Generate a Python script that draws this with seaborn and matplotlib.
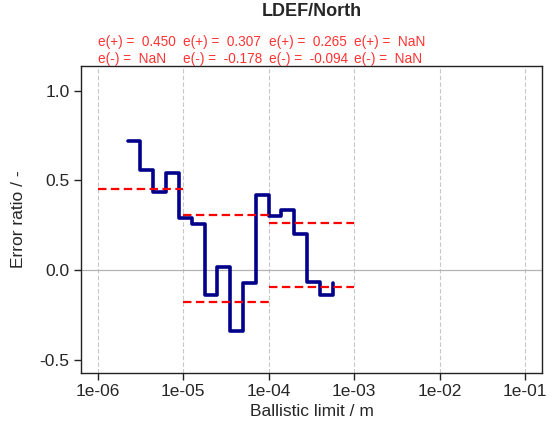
# Error ratio vs ballistic limit, LDEF/North
import numpy as np
import pandas as pd
import matplotlib
matplotlib.use("Agg")
import matplotlib.pyplot as plt
import matplotlib.transforms as mtransforms
from matplotlib.ticker import FixedLocator, FuncFormatter, NullLocator
import seaborn as sns

# step curve (ballistic limit in m, error ratio)
bl = [2.24e-6, 3.16e-6, 4.47e-6, 6.31e-6, 8.91e-6, 1.26e-5, 1.78e-5, 2.51e-5,
      3.55e-5, 5.01e-5, 7.08e-5, 1.00e-4, 1.41e-4, 2.00e-4, 2.82e-4, 3.98e-4, 5.62e-4]
ratio = [0.720, 0.557, 0.437, 0.544, 0.291, 0.256, -0.137, 0.020,
         -0.336, -0.069, 0.420, 0.302, 0.335, 0.200, -0.067, -0.136, -0.071]

# decade bins and mean errors
dec_lo = [1e-6, 1e-5, 1e-4, 1e-3]
dec_hi = [1e-5, 1e-4, 1e-3, 1e-2]
e_pos = [0.450, 0.307, 0.265, np.nan]
e_neg = [np.nan, -0.178, -0.094, np.nan]

xticks = [1e-6, 1e-5, 1e-4, 1e-3, 1e-2, 1e-1]
yticks = [-0.5, 0.0, 0.5, 1.0]

sns.set_style("white")
plt.rcParams['font.family'] = ['Liberation Sans', 'DejaVu Sans']

fig = plt.figure(figsize=(5.56, 4.28), dpi=100)
ax = fig.add_axes([0.1451, 0.1278, 0.8302, 0.718])
ax.set_xscale('log')

# grid: dashed verticals at decades, solid line at zero
for t in xticks:
    ax.axvline(t, color='#c8c8c8', lw=0.8, ls=(0, (4, 2)), zorder=0)
ax.axhline(0, color='#b4b4b4', lw=0.9, zorder=0)

df = pd.DataFrame({'bl': bl, 'ratio': ratio})
sns.lineplot(data=df, x='bl', y='ratio', ax=ax, color='#00008B', lw=2.6,
             drawstyle='steps-post', sort=False, zorder=3)

for lo, hi, ep, en in zip(dec_lo, dec_hi, e_pos, e_neg):
    for v in (ep, en):
        if not np.isnan(v):
            seg = pd.DataFrame({'x': [lo, hi], 'y': [v, v]})
            sns.lineplot(data=seg, x='x', y='y', ax=ax, color='red', lw=1.6,
                         ls=(0, (3.8, 2.0)), zorder=4)

# annotations above the axes
trans = mtransforms.blended_transform_factory(ax.transData, ax.transAxes)
for lo, ep, en in zip(dec_lo, e_pos, e_neg):
    sp = 'NaN' if np.isnan(ep) else f'{ep:.3f}'
    sn = 'NaN' if np.isnan(en) else f'{en:.3f}'
    ax.text(lo, 1.078, f'e(+) =  {sp}', transform=trans, color='#FF3333',
            fontsize=9.8, ha='left', va='center', clip_on=False)
    ax.text(lo, 1.023, f'e(-) =  {sn}', transform=trans, color='#FF3333',
            fontsize=9.8, ha='left', va='center', clip_on=False)

ax.set_xlim(10 ** -6.2, 10 ** -0.8)
ax.set_ylim(-0.574, 1.137)
ax.xaxis.set_major_locator(FixedLocator(xticks))
ax.xaxis.set_minor_locator(NullLocator())
ax.xaxis.set_major_formatter(FuncFormatter(lambda v, p: f'{v:.0e}'))
ax.set_yticks(yticks)
ax.set_yticklabels([f'{v:.1f}' for v in yticks])

ax.tick_params(axis='both', direction='out', length=5, width=1, color='#222222',
               labelsize=12.5, pad=3, bottom=True, left=True)
for s in ax.spines.values():
    s.set_color('#222222')
    s.set_linewidth(1.0)

ax.set_xlabel('Ballistic limit / m', fontsize=12.5, labelpad=3)
ax.set_ylabel('Error ratio / -', fontsize=12.5, labelpad=10)
fig.text(0.5602, 0.972, 'LDEF/North', fontsize=13, fontweight='bold',
         ha='center', va='center')

fig.savefig('out.png', dpi=100)
